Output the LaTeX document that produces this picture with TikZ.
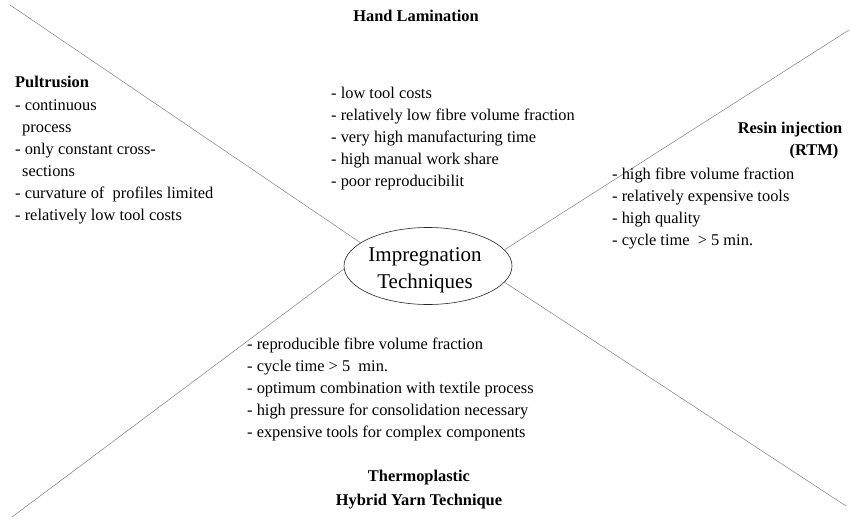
\documentclass[tikz,border=0pt]{standalone}
\usepackage{fontspec}
\setmainfont{Liberation Serif}
\usetikzlibrary{shapes.geometric}
\newcommand{\mylist}[1]{\begin{tabular}[t]{@{}l@{}}#1\end{tabular}}
\begin{document}
\begin{tikzpicture}[x=1pt,y=-1pt,
  txt/.style={inner sep=0pt, anchor=base west, font=\fontsize{16.4}{22}\selectfont},
  head/.style={inner sep=0pt, anchor=base, font=\fontsize{16.4}{22}\selectfont\bfseries},
  conn/.style={draw=black!50, line width=0.5pt},
  hub/.style={draw=black!85, ellipse, line width=0.6pt, inner sep=0pt, minimum width=168pt, minimum height=77pt},
  hubtext/.style={inner sep=0pt, align=center, font=\fontsize{21}{27}\selectfont}]
\useasboundingbox (0,0) rectangle (850,519);
\node[hub] (ell) at (428,266) {};
\node[hubtext] (elltxt) at (425,270) {Impregnation\\Techniques};
\coordinate (tl) at (10,5);
\coordinate (tr) at (849,30);
\coordinate (bl) at (12,517);
\coordinate (br) at (846,506);
\draw[conn] (ell.161.6) -- (tl);
\draw[conn] (ell.12.4) -- (tr);
\draw[conn] (ell.182.7) -- (bl);
\draw[conn] (ell.348.3) -- (br);
% Pultrusion
\node[head, anchor=base west] (pulh) at (15,87) {Pultrusion};
\node[txt] (pull) at (15,110) {\mylist{- continuous\\\hspace*{7pt}process\\- only constant cross-\\\hspace*{7pt}sections\\- curvature of\ \ profiles limited\\- relatively low tool costs}};
% Hand lamination
\node[head] (handh) at (416,22) {Hand Lamination};
\node[txt] (handl) at (331,98) {\mylist{- low tool costs\\- relatively low fibre volume fraction\\- very high manufacturing time\\- high manual work share\\- poor reproducibilit}};
% Resin injection
\node[head] (rtmh) at (790,133) {Resin injection};
\node[head] (rtmh2) at (814,155) {(RTM)};
\node[txt] (rtml) at (612,179) {\mylist{- high fibre volume fraction\\- relatively expensive tools\\- high quality\\- cycle time\ \ > 5 min.}};
% Thermoplastic
\node[txt] (thl) at (247,349) {\mylist{- reproducible fibre volume fraction\\- cycle time > 5\ \ min.\\- optimum combination with textile process\\- high pressure for consolidation necessary\\- expensive tools for complex components}};
\node[head] (thh) at (419,481) {Thermoplastic};
\node[head] (thh2) at (419,505) {Hybrid Yarn Technique};
\end{tikzpicture}
\end{document}
